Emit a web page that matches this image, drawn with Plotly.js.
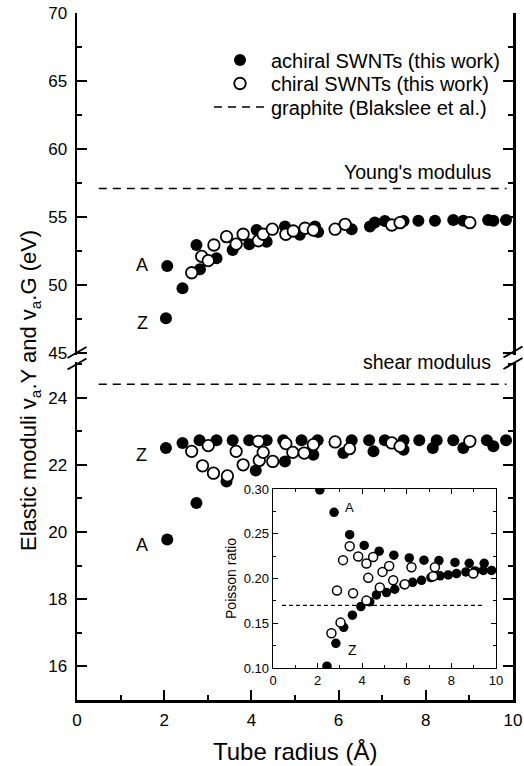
<!DOCTYPE html>
<html>
<head>
<meta charset="utf-8">
<script src="https://cdn.plot.ly/plotly-3.0.1.min.js"></script>
<style>html,body{margin:0;padding:0;background:#fff;}#chart{width:524px;height:766px;}</style>
</head>
<body>
<div id="chart"></div>
<script>
// ---- Data ----
// Young's modulus (upper panel), achiral SWNTs
const youngAchiralR = [2.04, 2.07, 2.42, 2.74, 2.82, 3.2, 3.57, 3.95, 4.12, 4.35, 4.77, 5.11, 5.46, 5.53, 6.3, 6.72, 6.83, 7.06, 7.49, 7.83, 8.21, 8.63, 8.86, 9.43, 9.55, 9.84];
const youngAchiralY = [47.55, 51.4, 49.76, 52.94, 51.15, 51.96, 52.57, 53.0, 54.04, 53.18, 54.3, 53.7, 54.3, 53.9, 54.1, 54.3, 54.6, 54.7, 54.7, 54.73, 54.73, 54.78, 54.73, 54.78, 54.73, 54.78];
// Young's modulus, chiral SWNTs
const youngChiralR = [2.63, 2.86, 3.01, 3.14, 3.43, 3.65, 3.81, 4.16, 4.27, 4.48, 4.79, 4.96, 5.23, 5.42, 5.92, 6.15, 7.22, 7.41, 9.01];
const youngChiralY = [50.9, 52.1, 51.79, 52.94, 53.55, 53.0, 53.73, 53.25, 53.73, 54.1, 53.73, 53.97, 54.17, 54.04, 54.1, 54.46, 54.41, 54.58, 54.58];
// Shear modulus (lower panel), achiral SWNTs
const shearAchiralR = [2.04, 2.07, 2.42, 2.74, 2.81, 3.2, 3.43, 3.57, 3.95, 4.1, 4.35, 4.73, 4.77, 5.15, 5.42, 5.52, 6.11, 6.3, 6.7, 6.8, 7.06, 7.49, 7.49, 7.85, 8.16, 8.25, 8.63, 8.86, 9.4, 9.55, 9.84];
const shearAchiralG = [22.5, 19.78, 22.65, 20.86, 22.73, 22.73, 21.5, 22.73, 22.73, 21.83, 22.73, 22.73, 22.1, 22.73, 22.3, 22.73, 22.35, 22.73, 22.73, 22.4, 22.73, 22.45, 22.73, 22.73, 22.5, 22.73, 22.73, 22.5, 22.73, 22.55, 22.73];
// Shear modulus, chiral SWNTs
const shearChiralR = [2.63, 2.88, 3.01, 3.13, 3.45, 3.65, 3.81, 4.16, 4.18, 4.27, 4.49, 4.79, 4.95, 5.21, 5.42, 5.92, 6.25, 7.22, 7.41, 9.01];
const shearChiralG = [22.4, 21.97, 22.57, 21.75, 21.67, 22.4, 22.0, 22.7, 22.13, 22.37, 22.1, 22.63, 22.37, 22.35, 22.6, 22.68, 22.48, 22.65, 22.55, 22.7];
// Poisson ratio (inset), achiral: armchair branch (A) and zigzag branch (Z)
const poissonAR = [2.1, 2.74, 3.44, 4.09, 4.76, 5.42, 6.11, 6.77, 7.44, 8.16, 8.8, 9.47];
const poissonAV = [0.299, 0.274, 0.249, 0.237, 0.2305, 0.226, 0.223, 0.2205, 0.22, 0.218, 0.217, 0.217];
const poissonZR = [2.42, 2.82, 3.17, 3.56, 3.94, 4.34, 4.64, 5.09, 5.46, 5.88, 6.26, 6.66, 7.08, 7.49, 7.86, 8.23, 8.65, 9.06, 9.43, 9.8];
const poissonZV = [0.102, 0.1276, 0.1455, 0.159, 0.1686, 0.174, 0.1817, 0.1843, 0.188, 0.193, 0.1957, 0.198, 0.201, 0.203, 0.204, 0.2055, 0.2074, 0.2085, 0.209, 0.209];
// Poisson ratio, chiral
const poissonChiralR = [2.62, 2.87, 3.03, 3.14, 3.44, 3.59, 3.82, 4.19, 4.19, 4.27, 4.49, 4.79, 4.91, 5.21, 5.39, 5.91, 6.21, 7.18, 7.26, 8.98];
const poissonChiralV = [0.1388, 0.1865, 0.1507, 0.2205, 0.236, 0.1835, 0.2245, 0.2167, 0.1753, 0.2007, 0.2241, 0.190, 0.2074, 0.214, 0.198, 0.1935, 0.2125, 0.2025, 0.2125, 0.2055];
// Graphite reference values (Blakslee et al.)
const graphiteSpan = [0.5, 9.85];
const graphiteY = 57.1;
const graphiteG = 24.4;
const insetSpan = [0.4, 9.5];
const graphiteNu = 0.17;
// Legend labels
const legendNames = ["achiral SWNTs (this work)", "chiral SWNTs (this work)", "graphite (Blakslee et al.)"];

// ---- Styles ----
const FONT = "Liberation Sans, Arial, Helvetica, sans-serif";
const filled = {symbol: "circle", size: 12, color: "black", line: {width: 0}};
const open = {symbol: "circle", size: 11.5, color: "white", line: {color: "black", width: 1.8}};
const filledS = {symbol: "circle", size: 9.5, color: "black", line: {width: 0}};
const openS = {symbol: "circle", size: 9, color: "white", line: {color: "black", width: 1.5}};

const traces = [
  {x: youngAchiralR, y: youngAchiralY, xaxis: "x", yaxis: "y", mode: "markers", marker: filled, name: legendNames[0], legend: "legend"},
  {x: youngChiralR, y: youngChiralY, xaxis: "x", yaxis: "y", mode: "markers", marker: open, name: legendNames[1], legend: "legend2"},
  {x: graphiteSpan, y: graphiteSpan.map(() => graphiteY), xaxis: "x", yaxis: "y", mode: "lines", line: {color: "black", width: 1.5, dash: "8px,6px"}, name: legendNames[2], legend: "legend3"},
  {x: shearAchiralR, y: shearAchiralG, xaxis: "x", yaxis: "y2", mode: "markers", marker: filled, showlegend: false},
  {x: shearChiralR, y: shearChiralG, xaxis: "x", yaxis: "y2", mode: "markers", marker: open, showlegend: false},
  {x: graphiteSpan, y: graphiteSpan.map(() => graphiteG), xaxis: "x", yaxis: "y2", mode: "lines", line: {color: "black", width: 1.5, dash: "8px,6px"}, showlegend: false},
  {x: insetSpan, y: insetSpan.map(() => graphiteNu), xaxis: "x3", yaxis: "y3", mode: "lines", line: {color: "black", width: 1.3, dash: "4px,3px"}, showlegend: false},
  {x: poissonAR, y: poissonAV, xaxis: "x3", yaxis: "y3", mode: "markers", marker: filledS, showlegend: false},
  {x: poissonZR, y: poissonZV, xaxis: "x3", yaxis: "y3", mode: "markers", marker: filledS, showlegend: false},
  {x: poissonChiralR, y: poissonChiralV, xaxis: "x3", yaxis: "y3", mode: "markers", marker: openS, showlegend: false}
];

const axMain = {
  showline: true, linecolor: "black", linewidth: 2.5, showgrid: false, zeroline: false,
  ticks: "inside", ticklen: 10, tickwidth: 2, tickcolor: "black",
  tickfont: {family: FONT, size: 17, color: "black"}
};
const axInset = {
  showline: true, linecolor: "black", linewidth: 1.3, showgrid: false, zeroline: false, mirror: "ticks",
  ticks: "inside", ticklen: 5, tickwidth: 1.2, tickcolor: "black",
  tickfont: {family: FONT, size: 13, color: "black"}
};

function px(x) { return (x - 77) / 436; }
function py(y) { return (700 - y) / 687; }
const brk = (x0, y0, x1, y1) => ({type: "line", xref: "paper", yref: "paper", x0: px(x0), y0: py(y0), x1: px(x1), y1: py(y1), line: {color: "black", width: 2}});
const legendBox = (yc) => ({x: px(209), xanchor: "left", y: py(yc), yanchor: "middle", font: {family: FONT, size: 20, color: "black"}, bgcolor: "rgba(0,0,0,0)", itemwidth: 52, borderwidth: 0});

const layout = {
  width: 524, height: 766,
  margin: {l: 77, r: 11, t: 13, b: 66},
  paper_bgcolor: "white", plot_bgcolor: "rgba(0,0,0,0)",
  font: {family: FONT, color: "black"},
  showlegend: true,
  legend: legendBox(60),
  legend2: legendBox(83.5),
  legend3: legendBox(107),
  xaxis: Object.assign({}, axMain, {domain: [0, 1], anchor: "y2", range: [0, 10], dtick: 2, ticklabelstandoff: 3, minor: {dtick: 1, ticks: "inside", ticklen: 5, tickwidth: 2, tickcolor: "black"}}),
  xaxis2: Object.assign({}, axMain, {overlaying: "x", anchor: "y", side: "top", range: [0, 10], dtick: 2, showticklabels: false, minor: {dtick: 1, ticks: "inside", ticklen: 5, tickwidth: 2, tickcolor: "black"}}),
  yaxis: Object.assign({}, axMain, {domain: [py(355), 1], anchor: "x", range: [44.85, 70], dtick: 5, mirror: "ticks", ticklabelstandoff: 4, minor: {dtick: 2.5, ticks: "inside", ticklen: 5, tickwidth: 2, tickcolor: "black"}}),
  yaxis2: Object.assign({}, axMain, {domain: [0, py(362)], anchor: "x", range: [15, 25.06], dtick: 2, mirror: "ticks", ticklabelstandoff: 4, minor: {dtick: 1, ticks: "inside", ticklen: 5, tickwidth: 2, tickcolor: "black"}}),
  xaxis3: Object.assign({}, axInset, {domain: [px(273), px(496)], anchor: "y3", range: [0, 10], dtick: 2, minor: {dtick: 1, ticks: "inside", ticklen: 3, tickwidth: 1, tickcolor: "black"}}),
  yaxis3: Object.assign({}, axInset, {domain: [py(668), py(489)], anchor: "x3", range: [0.10, 0.30], dtick: 0.05, tickformat: ".2f", minor: {dtick: 0.025, ticks: "inside", ticklen: 3, tickwidth: 1, tickcolor: "black"},
    title: {text: "Poisson ratio", font: {family: FONT, size: 14, color: "black"}, standoff: 4}}),
  shapes: [
    brk(67.5, 358, 86.5, 347), brk(67.5, 369.5, 86.5, 358.5),
    brk(503.5, 357.5, 522.5, 346.5), brk(503.5, 369, 522.5, 358)
  ],
  annotations: [
    {xref: "paper", yref: "paper", x: px(30), y: py(391), xanchor: "center", yanchor: "middle", text: "Elastic moduli v<sub>a</sub>.Y and v<sub>a</sub>.G (eV)", textangle: -90, showarrow: false, font: {family: FONT, size: 22, color: "black"}},
    {xref: "paper", yref: "paper", x: 0.5, y: py(751), xanchor: "center", yanchor: "middle", text: "Tube radius (Å)", showarrow: false, font: {family: FONT, size: 24, color: "black"}},
    {xref: "x", yref: "y", x: 9.54, y: 58.3, xanchor: "right", text: "Young's modulus", showarrow: false, font: {family: FONT, size: 19.5, color: "black"}},
    {xref: "x", yref: "y2", x: 9.54, y: 25.06, xanchor: "right", text: "shear modulus", showarrow: false, font: {family: FONT, size: 19.5, color: "black"}},
    {xref: "x", yref: "y", x: 1.5, y: 51.5, text: "A", showarrow: false, font: {family: FONT, size: 18, color: "black"}},
    {xref: "x", yref: "y", x: 1.5, y: 47.2, text: "Z", showarrow: false, font: {family: FONT, size: 18, color: "black"}},
    {xref: "x", yref: "y2", x: 1.48, y: 22.3, text: "Z", showarrow: false, font: {family: FONT, size: 18, color: "black"}},
    {xref: "x", yref: "y2", x: 1.48, y: 19.6, text: "A", showarrow: false, font: {family: FONT, size: 18, color: "black"}},
    {xref: "x3", yref: "y3", x: 3.45, y: 0.279, text: "A", showarrow: false, font: {family: FONT, size: 13, color: "black"}},
    {xref: "x3", yref: "y3", x: 3.56, y: 0.120, text: "Z", showarrow: false, font: {family: FONT, size: 14, color: "black"}}
  ]
};

Plotly.newPlot("chart", traces, layout, {staticPlot: true, displayModeBar: false});
</script>
</body>
</html>
